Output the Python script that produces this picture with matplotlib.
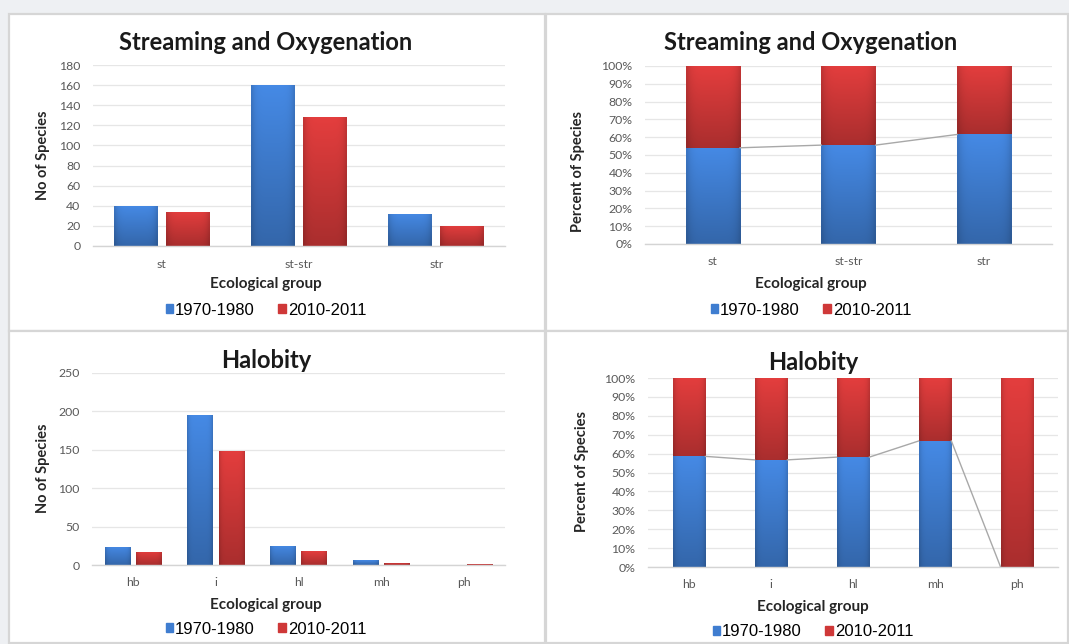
import numpy as np
import matplotlib
matplotlib.use("Agg")
import matplotlib.pyplot as plt
from matplotlib.patches import Rectangle
from matplotlib.colors import to_rgb
from matplotlib.ticker import PercentFormatter, MultipleLocator

# Species counts per ecological group
stream_groups = ["st", "st-str", "str"]
stream_1970 = [40, 160, 32]
stream_2010 = [34, 128, 20]

halo_groups = ["hb", "i", "hl", "mh", "ph"]
halo_1970 = [24, 195, 25, 6, 0]
halo_2010 = [17, 149, 18, 3, 1]

series_labels = ["1970-1980", "2010-2011"]

BLUE = "#3f7dd0"
RED = "#cf3838"
W, H = 1069, 644

fig = plt.figure(figsize=(W / 100, H / 100), dpi=100, facecolor="#eef0f3")


def fx(px):
    return px / W


def fy(py):
    return 1 - py / H


def add_axes(left, top, right, bottom):
    ax = fig.add_axes([fx(left), fy(bottom), fx(right) - fx(left), fy(top) - fy(bottom)])
    ax.set_zorder(2)
    ax.patch.set_alpha(0)
    return ax


# white panels with light borders
for (l, t, r, b) in [(9, 14, 545, 331), (546, 14, 1068, 331),
                     (9, 331, 545, 643), (546, 331, 1068, 643)]:
    fig.patches.append(Rectangle((fx(l), fy(b)), fx(r) - fx(l), fy(t) - fy(b),
                                 transform=fig.transFigure, facecolor="white",
                                 edgecolor="#d6d6d6", lw=1.6, zorder=-1))


def shade(ax, bars, base):
    r, g, b = to_rgb(base)
    ny, nx = 80, 24
    t = np.linspace(0, 1, ny)[:, None]
    s = np.linspace(-1, 1, nx)[None, :]
    f = (1.10 - 0.28 * t) * (1 - 0.14 * np.abs(s) ** 6)
    img = np.clip(np.stack([r * f, g * f, b * f], -1), 0, 1)
    for p in bars:
        x, y = p.get_x(), p.get_y()
        w, h = p.get_width(), p.get_height()
        if h <= 0:
            continue
        im = ax.imshow(img, extent=(x, x + w, y, y + h), origin="upper",
                       aspect="auto", interpolation="bilinear",
                       zorder=p.get_zorder() + 0.1)
        im.set_clip_path(p)


def style(ax, groups):
    for s in ["top", "right", "left"]:
        ax.spines[s].set_visible(False)
    ax.spines["bottom"].set_color("#d4d4d4")
    ax.spines["bottom"].set_linewidth(1.0)
    ax.grid(axis="y", color="#e6e6e6", lw=0.9)
    ax.set_axisbelow(True)
    ax.tick_params(length=0, labelsize=8.8, labelcolor="#595959")
    ax.tick_params(axis="x", pad=9)
    ax.tick_params(axis="y", pad=9)
    ax.set_xticks(range(len(groups)))
    ax.set_xticklabels(groups)
    ax.set_xlim(-0.5, len(groups) - 0.5)
    for lab in ax.get_xticklabels() + ax.get_yticklabels():
        lab.set_family("Lato")


def count_chart(ax, groups, a, b, ymax, step, bw, off):
    x = np.arange(len(groups))
    b1 = ax.bar(x - off, a, bw, color=BLUE, zorder=2)
    b2 = ax.bar(x + off, b, bw, color=RED, zorder=2)
    shade(ax, b1, BLUE)
    shade(ax, b2, RED)
    style(ax, groups)
    ax.set_ylim(0, ymax)
    ax.yaxis.set_major_locator(MultipleLocator(step))


def percent_chart(ax, groups, a, b, bw):
    a = np.array(a, float)
    b = np.array(b, float)
    tot = a + b
    pa = a / tot
    pb = b / tot
    x = np.arange(len(groups))
    b1 = ax.bar(x, pa, bw, color=BLUE, zorder=2)
    b2 = ax.bar(x, pb, bw, bottom=pa, color=RED, zorder=2)
    shade(ax, b1, BLUE)
    shade(ax, b2, RED)
    # series lines joining the 1970-1980 segment tops
    for i in range(len(groups) - 1):
        ax.plot([x[i] + bw / 2, x[i + 1] - bw / 2], [pa[i], pa[i + 1]],
                color="#a8a8a8", lw=1.0, zorder=3)
    style(ax, groups)
    ax.set_ylim(0, 1)
    ax.yaxis.set_major_locator(MultipleLocator(0.1))
    ax.yaxis.set_major_formatter(PercentFormatter(1.0, decimals=0))
    for lab in ax.get_yticklabels():
        lab.set_family("Lato")


def panel_text(cx, title, title_y, ylabel, ylabel_x, ylabel_y, xlabel_y, legend_y):
    fig.text(fx(cx), fy(title_y), title, ha="center", va="center",
             fontsize=17, fontweight="bold", family="Lato", color="#1a1a1a")
    fig.text(fx(ylabel_x), fy(ylabel_y), ylabel, ha="center", va="center",
             rotation=90, fontsize=10.5, fontweight="bold", family="Lato", color="#262626")
    fig.text(fx(cx), fy(xlabel_y), "Ecological group", ha="center", va="center",
             fontsize=11, fontweight="bold", family="Lato", color="#262626")
    handles = [Rectangle((0, 0), 1, 1, color=BLUE), Rectangle((0, 0), 1, 1, color=RED)]
    fig.legend(handles, series_labels, loc="center", bbox_to_anchor=(fx(cx), fy(legend_y)),
               ncol=2, frameon=False, handlelength=0.45, handleheight=0.45,
               handletextpad=0.12, columnspacing=1.4,
               prop={"family": "Liberation Sans", "size": 12})


ax1 = add_axes(93, 65, 505, 246)
count_chart(ax1, stream_groups, stream_1970, stream_2010, 180, 20, 0.32, 0.19)
panel_text(266, "Streaming and Oxygenation", 42, "No of Species", 43, 155, 284, 310)

ax2 = add_axes(645, 66, 1052, 244)
percent_chart(ax2, stream_groups, stream_1970, stream_2010, 0.40)
panel_text(811, "Streaming and Oxygenation", 42, "Percent of Species", 578, 172, 284, 310)

ax3 = add_axes(92, 373, 505, 565)
count_chart(ax3, halo_groups, halo_1970, halo_2010, 250, 50, 0.31, 0.19)
panel_text(266, "Halobity", 361, "No of Species", 43, 468, 605, 629)

ax4 = add_axes(648, 378, 1058, 567)
percent_chart(ax4, halo_groups, halo_1970, halo_2010, 0.40)
panel_text(813, "Halobity", 362, "Percent of Species", 582, 472, 607, 632)

fig.savefig("out.png", dpi=100, facecolor=fig.get_facecolor())
